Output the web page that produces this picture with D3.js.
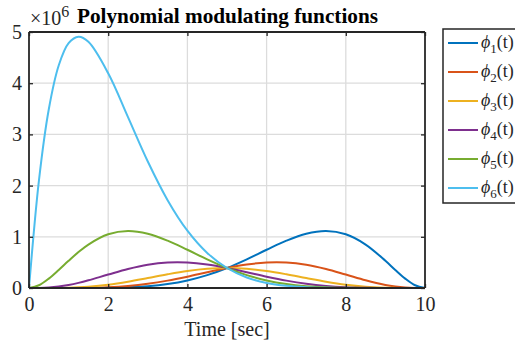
<!DOCTYPE html>
<html><head><meta charset="utf-8">
<script src="https://cdn.jsdelivr.net/npm/d3@7"></script>
<style>body{margin:0;background:#fff}svg{display:block}</style>
</head><body>
<script>
// sample times (sec)
const time = [0,0.25,0.5,0.75,1,1.25,1.5,2,2.5,3,3.5,4,4.5,5,5.5,6,6.5,7,7.5,8,8.5,9,9.25,9.5,9.75,10];
// values in units of 1e6
const phi1 = [0,0,0.0000014,0.0000152,0.000081,0.000292,0.000823,0.0041,0.0137,0.0357,0.0777,0.1475,0.2512,0.3906,0.5605,0.7465,0.9239,1.0588,1.1124,1.0486,0.8486,0.5314,0.3523,0.1838,0.0537,0];
const phi2 = [0,0.0000009,0.0000268,0.000188,0.000729,0.00204,0.00466,0.0164,0.0412,0.0833,0.1442,0.2212,0.3070,0.3906,0.4586,0.4977,0.4975,0.4538,0.3708,0.2621,0.1498,0.0590,0.0286,0.0097,0.00138,0];
const phi3 = [0,0.0000353,0.000509,0.00232,0.00656,0.0143,0.0264,0.0655,0.1236,0.1945,0.2679,0.3318,0.3752,0.3906,0.3752,0.3318,0.2679,0.1945,0.1236,0.0655,0.0264,0.00656,0.00232,0.000509,0.0000353,0];
const phi4 = [0,0.00138,0.0097,0.0286,0.0590,0.1002,0.1498,0.2621,0.3708,0.4538,0.4975,0.4977,0.4586,0.3906,0.3070,0.2212,0.1442,0.0833,0.0412,0.0164,0.00466,0.000729,0.000188,0.0000268,0.0000009,0];
const phi5 = [0,0.0537,0.1838,0.3523,0.5314,0.7012,0.8486,1.0486,1.1124,1.0588,0.9239,0.7465,0.5605,0.3906,0.2512,0.1475,0.0777,0.0357,0.0137,0.0041,0.000823,0.000081,0.0000152,0.0000014,0,0];
const phi6 = [0,2.0940,3.4917,4.3456,4.7830,4.9087,4.8087,4.1943,3.3371,2.4706,1.7158,1.1197,0.6851,0.3906,0.2055,0.0983,0.0418,0.0153,0.0046,0.0010,0.000145,0.000009,0.0000012,0,0,0];
const seriesNames = ["1","2","3","4","5","6"];
const seriesValues = [phi1,phi2,phi3,phi4,phi5,phi6];
const colors = ["#0072BD","#D95319","#EDB120","#7E2F8E","#77AC30","#4DBEEE"];
const xTicks = [0,2,4,6,8,10];
const yTicks = [0,1,2,3,4,5];
const titleText = "Polynomial modulating functions";
const xLabel = "Time [sec]";

const W = 515, H = 347;
const L = 29, R = 425, T = 32, B = 288;
const font = "'Liberation Serif','Times New Roman',serif";

const svg = d3.select("body").append("svg").attr("width", W).attr("height", H);
const x = d3.scaleLinear().domain([0,10]).range([L,R]);
const y = d3.scaleLinear().domain([0,5]).range([B,T]);

// grid
const g = svg.append("g");
g.selectAll("line.gx").data(xTicks.slice(1,-1)).join("line")
  .attr("x1", d=>x(d)).attr("x2", d=>x(d)).attr("y1", T).attr("y2", B)
  .attr("stroke", "#dcdcdc").attr("stroke-width", 1.3);
g.selectAll("line.gy").data(yTicks.slice(1,-1)).join("line")
  .attr("y1", d=>y(d)).attr("y2", d=>y(d)).attr("x1", L).attr("x2", R)
  .attr("stroke", "#dcdcdc").attr("stroke-width", 1.3);

// lines
const line = d3.line().x(d=>x(d[0])).y(d=>y(d[1])).curve(d3.curveCatmullRom.alpha(0.5));
const plot = svg.append("g");
seriesValues.forEach((vals,i)=>{
  plot.append("path").datum(time.map((t,j)=>[t, vals[j]]))
    .attr("d", line).attr("fill","none").attr("stroke", colors[i])
    .attr("stroke-width", 2).attr("stroke-linejoin","round");
});

// axes (box with inward ticks)
const axB = d3.axisBottom(x).tickValues(xTicks).tickSize(-4).tickPadding(9).tickFormat(d3.format("d"));
const axL = d3.axisLeft(y).tickValues(yTicks).tickSize(-4).tickPadding(7).tickFormat(d3.format("d"));
const axT = d3.axisTop(x).tickValues(xTicks).tickSize(-4).tickFormat("");
const axR = d3.axisRight(y).tickValues(yTicks).tickSize(-4).tickFormat("");
function style(sel){
  sel.attr("font-family", font).attr("font-size", 20);
  sel.select(".domain").attr("stroke","#262626").attr("stroke-width",1.8);
  sel.selectAll(".tick line").attr("stroke","#262626").attr("stroke-width",1.3);
  sel.selectAll(".tick text").attr("fill","#262626");
}
svg.append("g").attr("transform",`translate(0,${B})`).call(axB).call(style).select(".domain").attr("d",`M${L},0H${R}`);
svg.append("g").attr("transform",`translate(${L},0)`).call(axL).call(style).select(".domain").attr("d",`M0,${B}V${T}`);
svg.append("g").attr("transform",`translate(0,${T})`).call(axT).call(style).select(".domain").attr("d",`M${L},0H${R}`);
svg.append("g").attr("transform",`translate(${R},0)`).call(axR).call(style).select(".domain").attr("d",`M0,${B}V${T}`);

// exponent label
const ex = svg.append("text").attr("x", 30).attr("y", 25).attr("font-family", font).attr("font-size", 20).attr("fill","#262626");
ex.append("tspan").text("\u00d710");
ex.append("tspan").attr("dy", -8).attr("font-size", 16).text("6");

// title
svg.append("text").attr("x", 77).attr("y", 23)
  .attr("textLength", 301).attr("lengthAdjust", "spacingAndGlyphs")
  .attr("font-family", font).attr("font-weight","bold").attr("font-size", 21).attr("fill","#000").text(titleText);

// x label
svg.append("text").attr("x", (L+R)/2).attr("y", 336).attr("text-anchor","middle")
  .attr("font-family", font).attr("font-size", 20).attr("fill","#262626").text(xLabel);

// legend
const lg = svg.append("g");
lg.append("rect").attr("x", 443).attr("y", 29).attr("width", 80).attr("height", 174)
  .attr("fill","#fff").attr("stroke","#262626").attr("stroke-width",1.5);
seriesNames.forEach((n,i)=>{
  const yy = 43 + i*29;
  lg.append("line").attr("x1",448).attr("x2",478).attr("y1",yy).attr("y2",yy)
    .attr("stroke",colors[i]).attr("stroke-width",2);
  const t = lg.append("text").attr("x",481).attr("y",yy+5).attr("font-family",font)
    .attr("font-size",18).attr("fill","#262626");
  t.append("tspan").attr("font-style","italic").text("\u03d5");
  t.append("tspan").attr("dy",5).attr("font-size",13).text(n);
  t.append("tspan").attr("dy",-5).text("(t)");
});
</script>
</body></html>
